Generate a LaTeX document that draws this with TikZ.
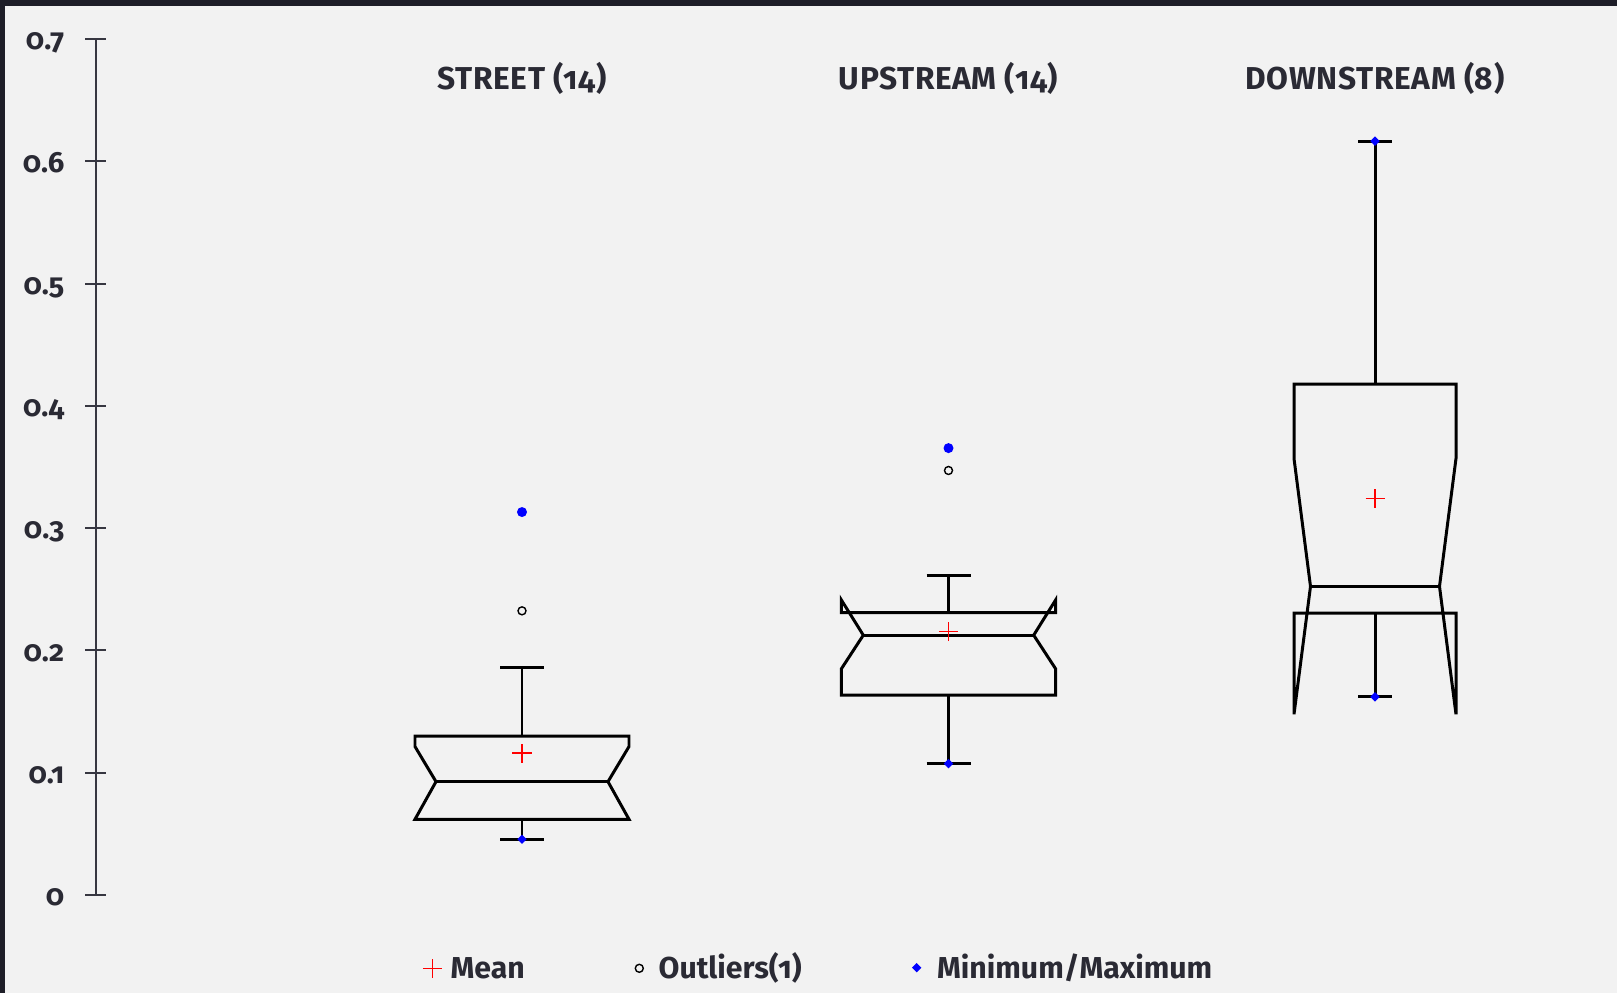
\documentclass[tikz,border=0pt]{standalone}
\usepackage{fontspec}
\setmainfont{Fira Sans}[Numbers=OldStyle]
\usetikzlibrary{positioning,shapes.geometric}
\definecolor{ink}{RGB}{42,42,52}
\definecolor{frame}{RGB}{30,30,40}
\definecolor{paper}{RGB}{242,242,242}
\definecolor{axisgray}{RGB}{55,55,65}
\tikzset{
  boxline/.style={black, line width=0.85pt},
  axisline/.style={axisgray, line width=0.57pt},
  meanmark/.style={red, line width=0.42pt},
  outlier/.style={circle, draw=black, fill=paper, line width=0.4pt, inner sep=0pt, minimum size=0.08cm},
  maxdot/.style={circle, fill=blue, inner sep=0pt, minimum size=0.1cm},
  extreme/.style={diamond, fill=blue, inner sep=0pt, minimum size=0.1cm},
  ticklbl/.style={text=ink, font=\bfseries\fontsize{8.3}{10}\selectfont, anchor=mid east, inner sep=0pt, yshift=-0.015cm},
  heading/.style={text=ink, font=\addfontfeatures{LetterSpace=2}\bfseries\fontsize{9}{10}\selectfont, anchor=base, inner sep=0pt},
  legtxt/.style={text=ink, font=\bfseries\fontsize{8.6}{10}\selectfont, inner sep=0pt, text height=0.21cm, text depth=0cm},
}
% notched box: centre, half width, inset, Q1, Q3, median, notch low, notch high
\def\notchbox#1#2#3#4#5#6#7#8{%
  \draw[boxline] (#1-#2,#5) -- (#1-#2,#8) -- (#1-#2+#3,#6) -- (#1-#2,#7) -- (#1-#2,#4)
    -- (#1+#2,#4) -- (#1+#2,#7) -- (#1+#2-#3,#6) -- (#1+#2,#8) -- (#1+#2,#5) -- cycle;
  \draw[boxline] (#1-#2+#3,#6) -- (#1+#2-#3,#6);}
% whisker: centre, from, to, half cap
\def\whisker#1#2#3#4{\draw[boxline] (#1,#2) -- (#1,#3) (#1-#4,#3) -- (#1+#4,#3);}
\def\pluscross#1{\draw[meanmark] ([xshift=-0.095cm]#1) -- ([xshift=0.095cm]#1)
  ([yshift=-0.095cm]#1) -- ([yshift=0.095cm]#1);}

\begin{document}
\begin{tikzpicture}[x=0.01cm, y=0.01cm]
		%%%%% START %%%%%
		\useasboundingbox (0,-98) rectangle (1617,895);
		\fill[paper] (0,-98) rectangle (1617,895);
		\fill[frame] (0,889) rectangle (1617,895);
		\fill[frame] (0,-98) rectangle (5,895);
		
		\node[heading] (hdstreet) at (522,805) {STREET (14)};
		\node[heading] (hdup) at (948.5,805) {UPSTREAM (14)};
		\node[heading] (hddown) at (1375,805) {DOWNSTREAM (8)};
		
		\begin{scope}[y=12.22cm]
		\draw[axisline] (95.7,0) -- (95.7,0.7);
		\foreach \v/\lbl [count=\i] in {0/0,0.1/0.1,0.2/0.2,0.3/0.3,0.4/0.4,0.5/0.5,0.6/0.6,0.7/0.7}{
			\draw[axisline] (85,\v) -- (105.5,\v);
			\node[ticklbl] (tick\i) at (65,\v) {\lbl};
		}
		
		% street
		\whisker{522}{0.1299}{0.1863}{22}
		\whisker{522}{0.0619}{0.0456}{22}
		\notchbox{522}{107}{21}{0.0619}{0.1299}{0.0927}{0.0619}{0.1214}
		\coordinate (mean1) at (522,0.1160);
		\pluscross{mean1}
		\node[outlier] (out1) at (522,0.2324) {};
		\node[maxdot] (max1) at (522,0.3132) {};
		\node[extreme] (min1) at (522,0.0456) {};
		
		% upstream
		\whisker{948.5}{0.2310}{0.2613}{22}
		\whisker{948.5}{0.1634}{0.1074}{22}
		\notchbox{948.5}{107.2}{22}{0.1634}{0.2310}{0.2125}{0.1849}{0.2414}
		\coordinate (mean2) at (948.5,0.2155);
		\pluscross{mean2}
		\node[outlier] (out2) at (948.5,0.3472) {};
		\node[maxdot] (max2) at (948.5,0.3655) {};
		\node[extreme] (min2) at (948.5,0.1074) {};
		
		% downstream
		\whisker{1375}{0.4178}{0.6165}{17}
		\whisker{1375}{0.2305}{0.1621}{17}
		\notchbox{1375}{81}{16.5}{0.2305}{0.4178}{0.2524}{0.1478}{0.3570}
		\coordinate (mean3) at (1375,0.3245);
		\pluscross{mean3}
		\node[extreme] (max3) at (1375,0.6165) {};
		\node[extreme] (min3) at (1375,0.1621) {};
		\end{scope}
		
		\coordinate (lgmeansym) at (432.3,-73.3);
		\pluscross{lgmeansym}
		\node[legtxt, right=0.177cm of lgmeansym] (lgmean) {Mean};
		\node[outlier] (lgoutsym) at (639.3,-73.3) {};
		\node[legtxt, right=0.14cm of lgoutsym] (lgout) {Outliers(1)};
		\node[extreme] (lgextsym) at (916.7,-72.7) {};
		\node[legtxt, right=0.14cm of lgextsym] (lgext) {Minimum/Maximum};
		%%%%% END %%%%%
\end{tikzpicture}
\end{document}
